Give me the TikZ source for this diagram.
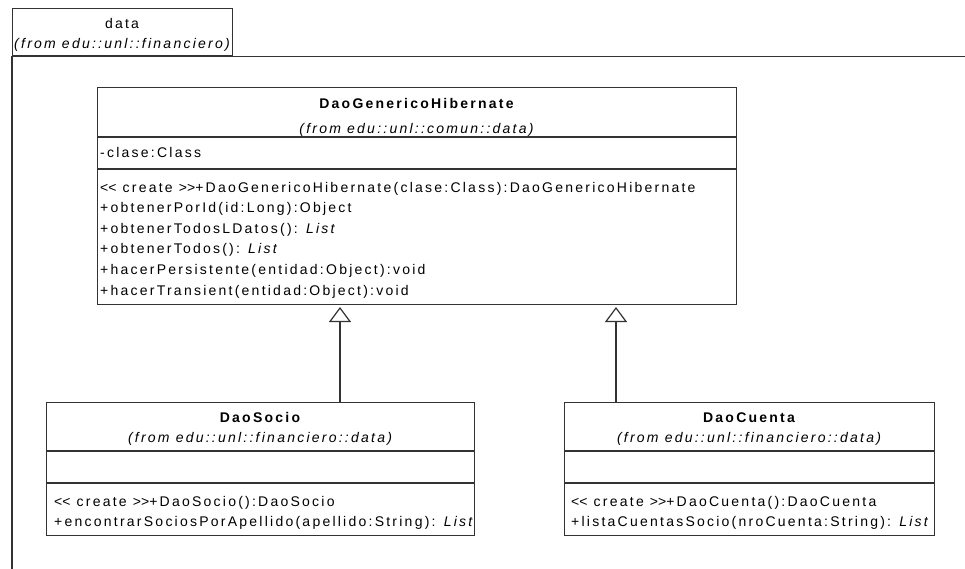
\documentclass[tikz,border=0pt]{standalone}
\usepackage{fontspec}
\setmainfont{Liberation Sans}[LetterSpace=16]
\usetikzlibrary{arrows.meta,calc}
\definecolor{umlline}{HTML}{333333}
% stereotype brackets kept as separate boxes so no ligature mapping applies
\newcommand{\stlt}{\mbox{<}\mbox{<}}
\newcommand{\stgt}{\mbox{>}\mbox{>}}
\begin{document}
\begin{tikzpicture}[x=1pt,y=-1pt,
  box/.style={draw=umlline, line width=1.2pt, fill=white, inner sep=0pt, anchor=north west},
  sep/.style={draw=umlline, line width=1.2pt},
  umlfont/.style={font=\fontsize{14}{16}\selectfont},
  txt/.style={umlfont, inner sep=0pt, anchor=base west},
  ctxt/.style={umlfont, inner sep=0pt, anchor=base},
  classname/.style={ctxt, font=\fontsize{14}{16}\selectfont\bfseries},
  fromtxt/.style={ctxt, font=\fontsize{14}{16}\selectfont\itshape},
  genarrow/.style={draw=umlline, line width=1.2pt,
    -{Triangle[open, length=15pt, width=22pt, fill=white]}}
]
\useasboundingbox (0,0) rectangle (965,568);
\fill[white] (0,0) rectangle (965,568);
\clip (0,0) rectangle (965,568);

% package frame "data"
\node[box, minimum width=220pt, minimum height=47pt] (pkgtab) at (12,8) {};
\draw[sep] (pkgtab.south west -| 980,0) -- (pkgtab.south west) -- (pkgtab.south west |- 0,590);
\node[ctxt] (pkgname) at (122,28) {data};
\node[fromtxt] (pkgfrom) at (122,48) {(from edu::unl::financiero)};

% DaoGenericoHibernate
\node[box, minimum width=639pt, minimum height=217pt] (gen) at (97,87) {};
\draw[sep] ($(gen.north west)+(0,50)$) -- ($(gen.north east)+(0,50)$);
\draw[sep] ($(gen.north west)+(0,82)$) -- ($(gen.north east)+(0,82)$);
\node[classname] (gentitle) at (416.5,108) {DaoGenericoHibernate};
\node[fromtxt] (genfrom) at (416.5,133) {(from edu::unl::comun::data)};
\node[txt] (genattr) at (100,157) {-clase:Class};
\node[txt] (genm1) at (100,192) {\stlt{} create \stgt+DaoGenericoHibernate(clase:Class):DaoGenericoHibernate};
\node[txt] (genm2) at (100,212.6) {+obtenerPorId(id:Long):Object};
\node[txt] (genm3) at (100,233.2) {+obtenerTodosLDatos(): \textit{List}};
\node[txt] (genm4) at (100,253.8) {+obtenerTodos(): \textit{List}};
\node[txt] (genm5) at (100,274.4) {+hacerPersistente(entidad:Object):void};
\node[txt] (genm6) at (100,295) {+hacerTransient(entidad:Object):void};

% DaoSocio
\node[box, minimum width=428pt, minimum height=133pt] (socio) at (46,402) {};
\draw[sep] ($(socio.north west)+(0,49)$) -- ($(socio.north east)+(0,49)$);
\draw[sep] ($(socio.north west)+(0,81)$) -- ($(socio.north east)+(0,81)$);
\node[classname] (sociotitle) at (260,422) {DaoSocio};
\node[fromtxt] (sociofrom) at (260,442) {(from edu::unl::financiero::data)};
\node[txt] (sociom1) at (54,506) {\stlt{} create \stgt+DaoSocio():DaoSocio};
\node[txt] (sociom2) at (54,526) {+encontrarSociosPorApellido(apellido:String): \textit{List}};

% DaoCuenta
\node[box, minimum width=370pt, minimum height=133pt] (cuenta) at (564,402) {};
\draw[sep] ($(cuenta.north west)+(0,49)$) -- ($(cuenta.north east)+(0,49)$);
\draw[sep] ($(cuenta.north west)+(0,81)$) -- ($(cuenta.north east)+(0,81)$);
\node[classname] (cuentatitle) at (749,422) {DaoCuenta};
\node[fromtxt] (cuentafrom) at (749,442) {(from edu::unl::financiero::data)};
\node[txt] (cuentam1) at (571,506) {\stlt{} create \stgt+DaoCuenta():DaoCuenta};
\node[txt] (cuentam2) at (571,526) {+listaCuentasSocio(nroCuenta:String): \textit{List}};

% generalizations
\coordinate (tipsocio) at (340,307);
\coordinate (tipcuenta) at (616,307);
\draw[genarrow] (socio.north -| tipsocio) -- (tipsocio);
\draw[genarrow] (cuenta.north -| tipcuenta) -- (tipcuenta);
\end{tikzpicture}
\end{document}
